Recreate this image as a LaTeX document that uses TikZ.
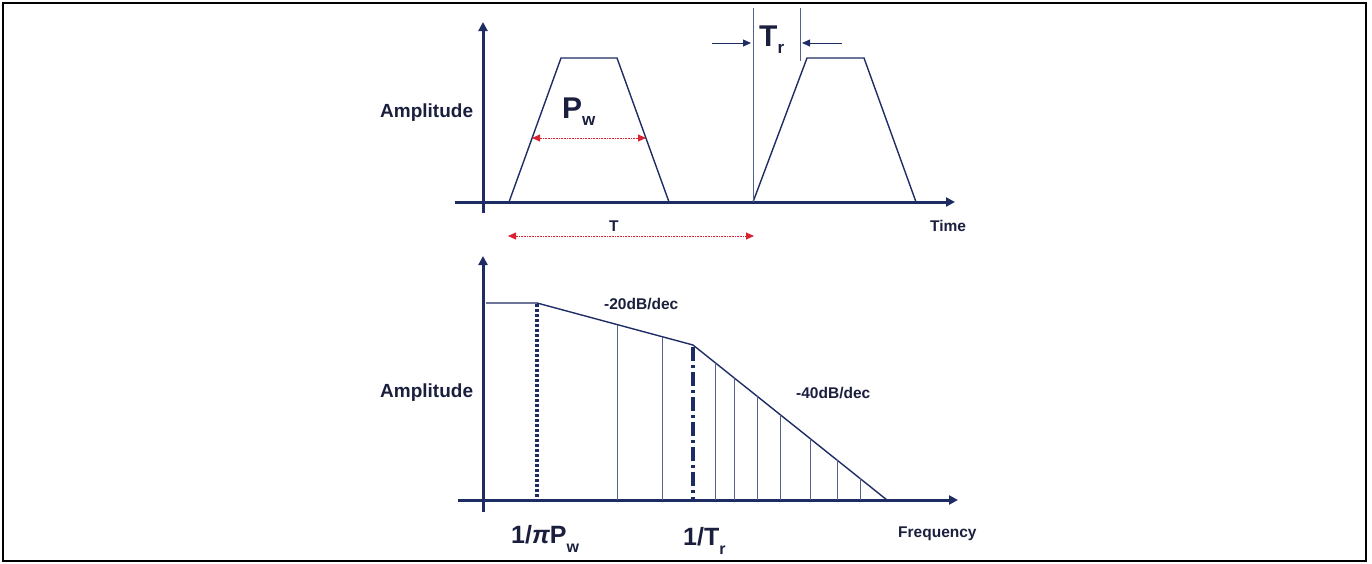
\documentclass[tikz,border=0pt]{standalone}
\usepackage{fontspec}
\setmainfont{Liberation Sans}
\usetikzlibrary{arrows.meta}
\definecolor{navy}{RGB}{30,44,100}
\definecolor{inkblue}{RGB}{26,31,62}
\definecolor{dimred}{RGB}{216,36,50}
\newcommand{\subw}[1]{\raisebox{-7pt}{\fontsize{17}{17}\selectfont #1}}
\newcommand{\subs}[1]{\raisebox{-9pt}{\fontsize{16}{16}\selectfont #1}}
\begin{document}
\begin{tikzpicture}[
    x=1pt,
    y=-1pt,
    axis/.style={navy, line width=3pt, -{Triangle[length=9pt,width=9pt]}},
    curve/.style={navy, line width=1.4pt},
    thin/.style={navy!75, line width=0.7pt},
    dim/.style={dimred, line width=0.9pt, dash pattern=on 1pt off 0.6pt,
      {Triangle[length=8pt,width=7pt]}-{Triangle[length=8pt,width=7pt]}},
    pointer/.style={navy, line width=0.8pt, -{Triangle[length=8pt,width=7pt]}},
    lbl/.style={inkblue, font=\bfseries\fontsize{15.5}{16}\selectfont, inner sep=0pt, anchor=base west},
    amp/.style={inkblue, font=\bfseries\fontsize{19}{20}\selectfont, inner sep=0pt, anchor=base west},
    big/.style={inkblue, font=\bfseries\fontsize{30}{31}\selectfont, inner sep=0pt, anchor=base west},
    mid/.style={inkblue, font=\bfseries\fontsize{25}{26}\selectfont, inner sep=0pt, anchor=base west}
  ]
  \useasboundingbox (0,0) rectangle (1372,563);
  \draw[line width=2pt] (3,3) rectangle (1366,561);

  % time domain
  \draw[axis] (455,202) -- (955,202);
  \draw[axis] (483,213) -- (483,22);
  \draw[curve] (509,202) -- (561,58) -- (617,58) -- (669,202);
  \draw[curve] (753,202) -- (807,58) -- (864,58) -- (916,202);
  \draw[thin] (753,8) -- (753,202);
  \draw[thin] (800,8) -- (800,61);
  \coordinate (trL) at (712,43);
  \coordinate (trLtip) at (751,43);
  \coordinate (trR) at (842,43);
  \coordinate (trRtip) at (802,43);
  \draw[pointer] (trL) -- (trLtip);
  \draw[pointer] (trR) -- (trRtip);
  \coordinate (pwL) at (532,138);
  \coordinate (pwR) at (646,138);
  \draw[dim] (pwL) -- (pwR);
  \coordinate (perL) at (508,236);
  \coordinate (perR) at (754,236);
  \draw[dim] (perL) -- (perR);
  \node[amp] (ampTop) at (380,117) {Amplitude};
  \node[big] (pw) at (562,118) {P\subw{w}};
  \node[big] (tr) at (759,46) {T\subw{r}};
  \node[lbl] (per) at (609,231) {T};
  \node[lbl] (time) at (930,231) {Time};

  % frequency domain
  \draw[axis] (458,500) -- (958,500);
  \draw[axis] (483,512) -- (483,256);
  \draw[curve] (486,303) -- (537,303) -- (693,345) -- (887,500);
  \foreach \x/\y in {617/324.5, 662/336.7, 715/362.6, 734/377.8, 757/396.1,
                     780/414.5, 810/438.5, 837/460.1, 860/478.4} {
    \draw[thin] (\x,500) -- (\x,\y);
  }
  \draw[navy, line width=3.2pt, dash pattern=on 2.6pt off 2.4pt] (537,304) -- (537,500);
  \draw[navy, line width=3.4pt, dash pattern=on 14pt off 4pt on 3pt off 4pt] (693,347) -- (693,500);
  \node[amp] (ampBot) at (380,397) {Amplitude};
  \node[lbl] (slopeA) at (604,309) {-20dB/dec};
  \node[lbl] (slopeB) at (796,398) {-40dB/dec};
  \node[lbl] (freq) at (898,537) {Frequency};
  \node[mid] (fpw) at (511,543) {1/{\itshape π}P\subs{w}};
  \node[mid] (ftr) at (683,545) {1/T\subs{r}};
\end{tikzpicture}
\end{document}
